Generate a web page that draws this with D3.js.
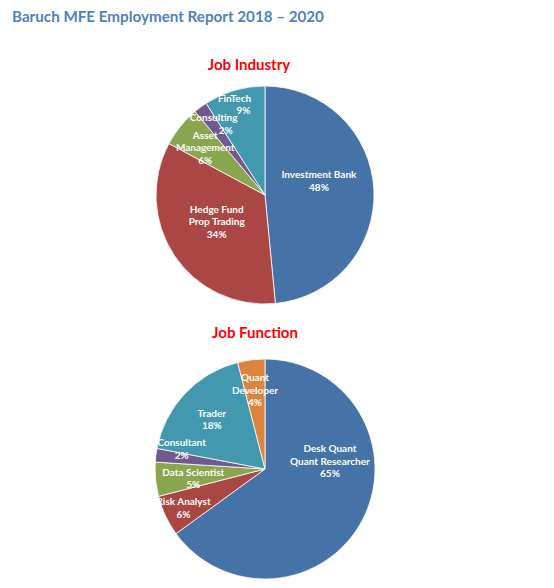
<!DOCTYPE html>
<html>
<head>
<meta charset="utf-8">
<script src="https://cdn.jsdelivr.net/npm/d3@7"></script>
<style>
  body { margin: 0; background: #fff; }
  text { font-family: Lato, "Open Sans", sans-serif; font-weight: bold; }
</style>
</head>
<body>
<div id="chart"></div>
<script>
const WIDTH = 554;
const HEIGHT = 588;

// datos
const industryNames = ["Investment Bank", "Hedge Fund\nProp Trading", "Asset\nManagement", "Consulting", "FinTech"];
const industryValues = [48, 34, 6, 2, 9];
const functionNames = ["Desk Quant\nQuant Researcher", "Risk Analyst", "Data Scientist", "Consultant", "Trader", "Quant\nDeveloper"];
const functionValues = [65, 6, 5, 2, 18, 4];

const industryColors = ["#4572A7", "#AA4643", "#89A54E", "#71588F", "#4198AF"];
const functionColors = ["#4572A7", "#AA4643", "#89A54E", "#71588F", "#4198AF", "#DB843D"];

// ubicacion de etiquetas (radio del centroide + ajuste + corrimiento del %)
const industryLabelR = [54, 58, 77, 90, 94];
const industryNudge = [[0, -12], [0, -6], [0, 1], [2, 1], [-4, -1]];
const industryPctShift = [0, 0, 0, 12, 9];
const functionLabelR = [65, 90, 72, 84, 73, 80];
const functionNudge = [[7, -38], [0, 0], [0, 2], [0, -10], [0, 0], [0, 0]];
const functionPctShift = [0, 0, 0, 0, 0, 0];

const svg = d3.select("#chart")
  .append("svg")
  .attr("width", WIDTH)
  .attr("height", HEIGHT);

svg.append("text")
  .attr("x", 12)
  .attr("y", 22)
  .attr("fill", "#4F81BD")
  .attr("font-size", 15.2)
  .text("Baruch MFE Employment Report 2018 \u2013 2020");

function drawPie(names, values, colors, labelR, nudge, pctShift, cx, cy, radius, title, titleX, titleY) {
  svg.append("text")
    .attr("x", titleX)
    .attr("y", titleY)
    .attr("text-anchor", "middle")
    .attr("fill", "#FF0000")
    .attr("font-size", 15)
    .text(title);

  const pie = d3.pie().sort(null).value(d => d.value);
  const data = pie(values.map((v, i) => ({ name: names[i], value: v, i: i })));
  const arc = d3.arc().innerRadius(0).outerRadius(radius);

  const g = svg.append("g").attr("transform", `translate(${cx},${cy})`);

  g.selectAll("path")
    .data(data)
    .join("path")
    .attr("d", arc)
    .attr("fill", d => colors[d.data.i])
    .attr("stroke", "#ffffff")
    .attr("stroke-width", 0.8);

  const labels = g.selectAll("text")
    .data(data)
    .join("text")
    .attr("fill", "#ffffff")
    .attr("font-size", 10)
    .attr("text-anchor", "middle")
    .attr("transform", d => {
      const i = d.data.i;
      const c = d3.arc().innerRadius(labelR[i]).outerRadius(labelR[i]).centroid(d);
      return `translate(${c[0] + nudge[i][0]},${c[1] + nudge[i][1]})`;
    });

  labels.each(function(d) {
    const lines = d.data.name.split("\n").concat([d.data.value + "%"]);
    const t = d3.select(this);
    lines.forEach((line, k) => {
      t.append("tspan")
        .attr("x", k == lines.length - 1 ? pctShift[d.data.i] : 0)
        .attr("y", (k - (lines.length - 1) / 2) * 12.5)
        .attr("dominant-baseline", "central")
        .text(line);
    });
  });
}

drawPie(industryNames, industryValues, industryColors, industryLabelR, industryNudge, industryPctShift,
  265, 195, 109, "Job Industry", 249, 70);
drawPie(functionNames, functionValues, functionColors, functionLabelR, functionNudge, functionPctShift,
  265, 469, 110, "Job Function", 255, 338);
</script>
</body>
</html>
